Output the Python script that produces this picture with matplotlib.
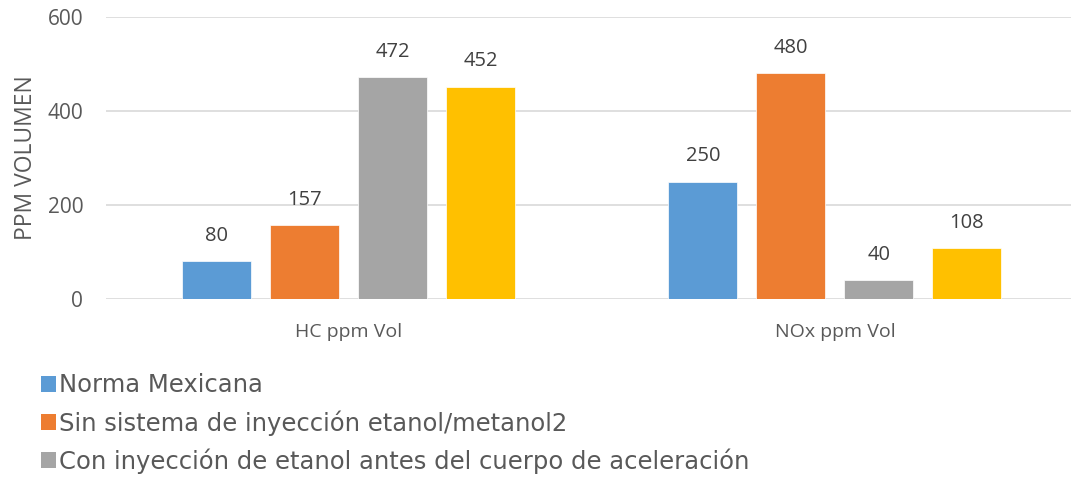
import matplotlib
matplotlib.use("Agg")
import matplotlib.pyplot as plt
from matplotlib.patches import Patch
import numpy as np

categories = ["HC ppm Vol", "NOx ppm Vol"]
series_names = [
    "Norma Mexicana",
    "Sin sistema de inyección etanol/metanol2",
    "Con inyección de etanol antes del cuerpo de aceleración",
]
norma = [80, 250]
sin_sistema = [157, 480]
con_inyeccion = [472, 40]
cuarta_serie = [452, 108]
colors = ["#5B9BD5", "#ED7D31", "#A5A5A5", "#FFC000"]
yticks = [0, 200, 400, 600]

W, H = 1071, 478
fig = plt.figure(figsize=(W / 100, H / 100), dpi=100)
ax = fig.add_axes([105.5 / W, (H - 299) / H, 972.5 / W, 282 / H])

x = np.arange(len(categories))
step = 0.181
width = 0.142
all_series = [norma, sin_sistema, con_inyeccion, cuarta_serie]
for i, (vals, c) in enumerate(zip(all_series, colors)):
    pos = x + (i - 1.5) * step
    bars = ax.bar(pos, vals, width=width, color=c, edgecolor="white",
                  linewidth=0.5, zorder=3)
    for b, v in zip(bars, vals):
        ax.annotate(str(v), (b.get_x() + b.get_width() / 2, v),
                    xytext=(0, 11), textcoords="offset points",
                    ha="center", va="bottom", fontsize=14.5,
                    family="Open Sans", color="#404040")

ax.set_xlim(-0.5, 1.5)
ax.set_ylim(0, 600)
ax.set_yticks(yticks)
ax.set_xticks(x)
ax.set_xticklabels(categories, fontsize=14, family="Open Sans", color="#595959")
ax.tick_params(axis="x", length=0, pad=17)
ax.tick_params(axis="y", length=0, pad=16, labelsize=15, labelcolor="#595959")
for lab in ax.get_yticklabels():
    lab.set_family("Open Sans")
ax.yaxis.grid(True, color="#D9D9D9", linewidth=1.2, zorder=0)
ax.set_axisbelow(True)
for s in ["top", "right", "left", "bottom"]:
    ax.spines[s].set_visible(False)
ax.set_ylabel("PPM VOLUMEN", fontsize=16.5, family="Open Sans", color="#595959",
              labelpad=7)

handles = [Patch(facecolor=c, edgecolor="none") for c in colors[:3]]
fig.legend(handles, series_names, loc="upper left",
           bbox_to_anchor=(41 / W, 1 - 373.5 / H), frameon=False,
           prop={"family": "DejaVu Sans", "size": 17.5},
           labelcolor="#595959", handlelength=0.62, handleheight=0.62,
           handletextpad=0.12, labelspacing=0.52, borderpad=0, borderaxespad=0)

fig.savefig("out.png", dpi=100)
